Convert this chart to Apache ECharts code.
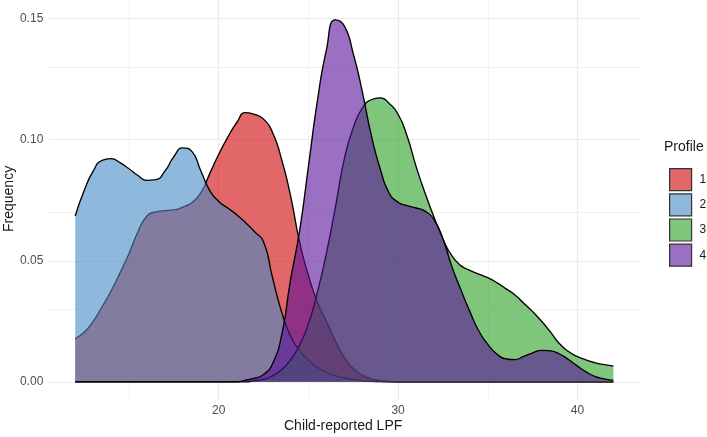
<!DOCTYPE html>
<html>
<head>
<meta charset="utf-8">
<script src="https://cdn.jsdelivr.net/npm/echarts@6/dist/echarts.min.js"></script>
<style>html,body{margin:0;padding:0;background:#fff}#c{width:707px;height:437px}</style>
</head>
<body>
<div id="c"></div>
<script>
// x positions of the density estimates (Child-reported LPF)
const xs = [12,12.5,13,13.5,14,14.5,15,15.5,16,16.5,17,17.5,18,18.5,19,19.5,20,20.5,21,21.5,22,22.5,23,23.5,24,24.5,25,25.5,26,26.5,27,27.5,28,28.5,29,29.5,30,30.5,31,31.5,32,32.5,33,33.5,34,34.5,35,35.5,36,36.5,37,37.5,38,38.5,39,39.5,40,40.5,41,41.5,42];
const profileNames = ['1','2','3','4'];
const profile1 = [0.0179,0.0205,0.025,0.031,0.0375,0.045,0.053,0.062,0.0685,0.0702,0.0707,0.071,0.0722,0.074,0.078,0.086,0.094,0.101,0.107,0.1112,0.1105,0.1085,0.103,0.092,0.077,0.058,0.044,0.033,0.025,0.017,0.010,0.0055,0.0028,0.0012,0.0005,0.0002,0,0,0,0,0,0,0,0,0,0,0,0,0,0,0,0,0,0,0,0,0,0,0,0,0];
const profile2 = [0.0685,0.079,0.087,0.0915,0.0922,0.0905,0.088,0.0852,0.0832,0.0835,0.087,0.093,0.0966,0.0952,0.0872,0.079,0.0745,0.0718,0.069,0.0657,0.062,0.0578,0.043,0.029,0.019,0.013,0.009,0.006,0.004,0.0026,0.0016,0.001,0.0005,0.0002,0.0001,0,0,0,0,0,0,0,0,0,0,0,0,0,0,0,0,0,0,0,0,0,0,0,0,0,0];
const profile3 = [0,0,0,0,0,0,0,0,0,0,0,0,0,0,0,0,0,0,0,0,0.0005,0.001,0.0025,0.005,0.009,0.015,0.024,0.037,0.053,0.072,0.092,0.105,0.113,0.1165,0.1173,0.115,0.1105,0.1015,0.089,0.078,0.068,0.059,0.052,0.048,0.046,0.0445,0.043,0.041,0.0385,0.036,0.0325,0.029,0.025,0.0205,0.0157,0.0125,0.0104,0.009,0.0078,0.0071,0.0065];
const profile4 = [0,0,0,0,0,0,0,0,0,0,0,0,0,0,0,0,0,0,0,0.0007,0.0015,0.003,0.0075,0.019,0.042,0.062,0.089,0.116,0.137,0.1495,0.147,0.1355,0.12,0.102,0.088,0.078,0.0742,0.0728,0.0718,0.0705,0.067,0.059,0.0475,0.038,0.029,0.021,0.0155,0.0115,0.0095,0.0092,0.0105,0.012,0.013,0.0128,0.0115,0.0092,0.0065,0.004,0.0022,0.0012,0.0006];
const xTickLabels = [20,30,40];
const yTickLabels = [0,0.05,0.10,0.15];
const xMajorGrid = [20,30,40];
const xMinorGrid = [15,25,35];
const yMajorGrid = [0,0.05,0.10,0.15];
const yMinorGrid = [0.025,0.075,0.125];

const fills = ['rgba(205,2,5,0.6)','rgba(68,138,197,0.6)','rgba(42,160,37,0.6)','rgba(88,15,153,0.6)'];
const FONT = '"Liberation Sans", Arial, Helvetica, sans-serif';
const allSeries = [profile1, profile2, profile3, profile4];

const chart = echarts.init(document.getElementById('c'), null, {renderer:'canvas'});

const gridLines = [];
xMinorGrid.forEach(v => gridLines.push({xAxis:v, lineStyle:{color:'#F2F2F2', width:1, type:'solid'}}));
yMinorGrid.forEach(v => gridLines.push({yAxis:v, lineStyle:{color:'#F2F2F2', width:1, type:'solid'}}));
xMajorGrid.forEach(v => gridLines.push({xAxis:v, lineStyle:{color:'#EBEBEB', width:1.2, type:'solid'}}));
yMajorGrid.forEach(v => gridLines.push({yAxis:v, lineStyle:{color:'#EBEBEB', width:1.2, type:'solid'}}));

const series = [{
  type:'line', name:'_grid', data:[], silent:true, z:0,
  markLine:{silent:true, z:0, symbol:['none','none'], label:{show:false}, animation:false, data:gridLines}
}];
allSeries.forEach((vals, i) => {
  series.push({
    type:'line', name:profileNames[i], z:10+i,
    data: xs.map((x, k) => [x, vals[k]]),
    showSymbol:false, symbol:'none', smooth:0.55,
    lineStyle:{color:'#000', width:1.35},
    itemStyle:{color:fills[i]},
    areaStyle:{color:fills[i], opacity:1, origin:'auto'},
    silent:true
  });
});

chart.setOption({
  animation:false,
  backgroundColor:'#fff',
  grid:{left:48.3, right:66.7, top:0, bottom:37},
  xAxis:{type:'value', min:10.5, max:43.5,
    axisLine:{show:false}, axisTick:{show:false}, splitLine:{show:false},
    axisLabel:{customValues:xTickLabels, color:'#4D4D4D', fontSize:12, margin:5, fontFamily:FONT}},
  yAxis:{type:'value', min:-0.0075, max:0.1577,
    axisLine:{show:false}, axisTick:{show:false}, splitLine:{show:false},
    axisLabel:{customValues:yTickLabels, formatter:v=>v.toFixed(2), color:'#4D4D4D', fontSize:12, margin:5, fontFamily:FONT}},
  legend:{orient:'vertical', left:664, top:163, itemWidth:22, itemHeight:22, itemGap:2, icon:'rect',
    textStyle:{fontSize:12, color:'#1A1A1A', fontFamily:FONT, padding:[0,0,0,3]},
    data: profileNames.map((n,i)=>({name:n, icon:'rect', itemStyle:{color:fills[i], borderColor:'#333', borderWidth:1.2}}))
  },
  graphic:[
    {type:'text', left:344-60, top:419, style:{text:'Child-reported LPF', fontSize:14, fill:'#1A1A1A', fontFamily:FONT}},
    {type:'text', rotation:Math.PI/2, x:2, y:232, style:{text:'Frequency', fontSize:14, fill:'#1A1A1A', fontFamily:FONT}},
    {type:'text', left:664, top:140, style:{text:'Profile', fontSize:14, fill:'#1A1A1A', fontFamily:FONT}}
  ],
  series: series
});
</script>
</body>
</html>
